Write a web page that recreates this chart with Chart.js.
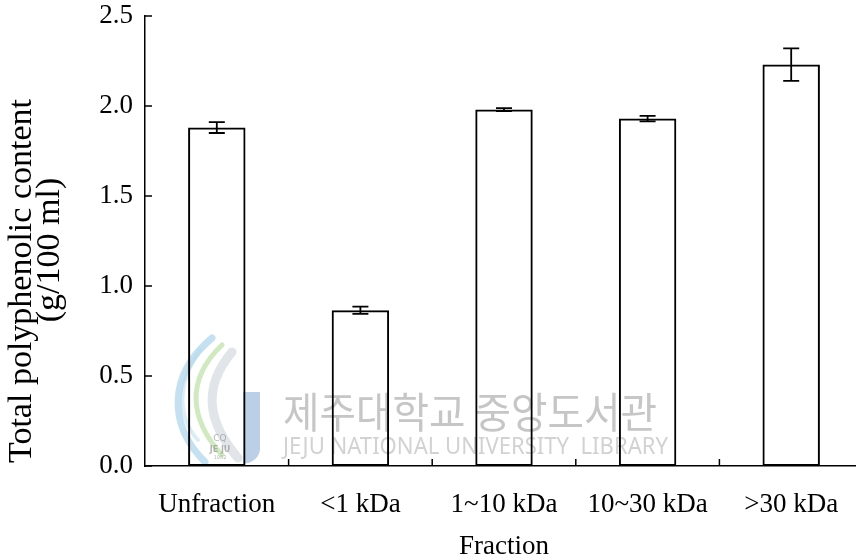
<!DOCTYPE html>
<html>
<head>
<meta charset="utf-8">
<script src="https://cdn.jsdelivr.net/npm/chart.js@4/dist/chart.umd.min.js"></script>
<style>
  html, body { margin: 0; padding: 0; background: #fff; overflow: hidden; }
  #wrap { width: 864px; height: 560px; }
</style>
</head>
<body>
<div id="wrap"><canvas id="c" width="864" height="560"></canvas></div>
<script>
// Total polyphenolic content by ultrafiltration fraction (mean ± SD)
const categories = ['Unfraction', '<1 kDa', '1~10 kDa', '10~30 kDa', '>30 kDa'];
const contentMeans = [1.88, 0.865, 1.98, 1.93, 2.23];
const contentErrors = [0.03, 0.02, 0.008, 0.015, 0.09];
const yTickValues = [0, 0.5, 1.0, 1.5, 2.0, 2.5];
const yTitleLines = ['Total polyphenolic content', '(g/100 ml)'];

const SERIF = '"Liberation Serif", "Times New Roman", serif';

// Faint library watermark behind the bars
const watermark = {
  id: 'watermark',
  beforeDatasetsDraw(chart) {
    const ctx = chart.ctx;
    ctx.save();
    // logo swooshes
    ctx.lineCap = 'round';
    const strokes = [
      { c: 'rgba(150,200,230,0.55)', w: 7, p: [212, 338, 168, 375, 168, 425, 205, 462] },
      { c: 'rgba(170,215,140,0.55)', w: 5, p: [222, 345, 185, 380, 190, 420, 222, 455] },
      { c: 'rgba(200,205,215,0.55)', w: 9, p: [232, 352, 200, 390, 210, 425, 238, 458] },
      { c: 'rgba(180,215,235,0.45)', w: 4, p: [200, 350, 176, 385, 178, 418, 198, 440] }
    ];
    strokes.forEach(s => {
      ctx.strokeStyle = s.c;
      ctx.lineWidth = s.w;
      ctx.beginPath();
      ctx.moveTo(s.p[0], s.p[1]);
      ctx.bezierCurveTo(s.p[2], s.p[3], s.p[4], s.p[5], s.p[6], s.p[7]);
      ctx.stroke();
    });
    // blue block of the logo
    ctx.fillStyle = 'rgba(170,195,225,0.8)';
    ctx.beginPath();
    ctx.moveTo(243, 392);
    ctx.lineTo(260, 392);
    ctx.lineTo(260, 450);
    ctx.quadraticCurveTo(258, 462, 243, 464);
    ctx.closePath();
    ctx.fill();
    // small logo lettering
    ctx.fillStyle = 'rgba(150,150,150,0.7)';
    ctx.textAlign = 'center';
    ctx.textBaseline = 'alphabetic';
    ctx.font = 'bold 8px "DejaVu Sans", sans-serif';
    ctx.fillText('JE JU', 220, 452);
    ctx.font = '5px "DejaVu Sans", sans-serif';
    ctx.fillText('1952', 220, 459);
    ctx.font = '9px "DejaVu Sans", sans-serif';
    ctx.fillText('CQ', 220, 441);

    // Korean library name
    ctx.textAlign = 'left';
    ctx.fillStyle = '#c6c6c6';
    ctx.font = '42px "Noto Sans CJK KR", sans-serif';
    const ko = '제주대학교 중앙도서관';
    let w = ctx.measureText(ko).width;
    ctx.save();
    ctx.translate(283, 428);
    ctx.scale(374 / w, 1);
    ctx.fillText(ko, 0, 0);
    ctx.restore();
    // English library name
    ctx.fillStyle = '#d2d2d2';
    ctx.font = '24px "Noto Sans", sans-serif';
    const en = 'JEJU NATIONAL UNIVERSITY  LIBRARY';
    w = ctx.measureText(en).width;
    ctx.save();
    ctx.translate(283, 454);
    ctx.scale(385 / w, 1);
    ctx.fillText(en, 0, 0);
    ctx.restore();
    ctx.restore();
  }
};

// Error bars, inward tick marks and the two-line y-axis title
const errorBarsAndTicks = {
  id: 'errorBarsAndTicks',
  afterDatasetsDraw(chart) {
    const ctx = chart.ctx;
    const y = chart.scales.y;
    const x = chart.scales.x;
    const meta = chart.getDatasetMeta(0);
    ctx.save();
    ctx.strokeStyle = '#000';
    ctx.lineWidth = 1.8;
    meta.data.forEach((bar, i) => {
      const top = y.getPixelForValue(contentMeans[i] + contentErrors[i]);
      const bot = y.getPixelForValue(contentMeans[i] - contentErrors[i]);
      const cx = bar.x;
      ctx.beginPath();
      ctx.moveTo(cx, top); ctx.lineTo(cx, bot);
      ctx.moveTo(cx - 8, top); ctx.lineTo(cx + 8, top);
      ctx.moveTo(cx - 8, bot); ctx.lineTo(cx + 8, bot);
      ctx.stroke();
    });
    // y ticks pointing into the plot
    const left = chart.chartArea.left;
    ctx.lineWidth = 1.5;
    yTickValues.forEach(v => {
      const py = y.getPixelForValue(v);
      ctx.beginPath();
      ctx.moveTo(left, py); ctx.lineTo(left + 7, py);
      ctx.stroke();
    });
    // x ticks between categories, pointing up
    const bottom = chart.chartArea.bottom;
    for (let i = 0; i < categories.length - 1; i++) {
      const px = (x.getPixelForValue(i) + x.getPixelForValue(i + 1)) / 2;
      ctx.beginPath();
      ctx.moveTo(px, bottom); ctx.lineTo(px, bottom - 7);
      ctx.stroke();
    }
    // rotated y-axis title
    ctx.fillStyle = '#000';
    ctx.font = '34px ' + SERIF;
    ctx.textAlign = 'center';
    ctx.textBaseline = 'middle';
    const titlePos = [[22, 281], [50, 250]];
    yTitleLines.forEach((line, i) => {
      ctx.save();
      ctx.translate(titlePos[i][0], titlePos[i][1]);
      ctx.rotate(-Math.PI / 2);
      ctx.fillText(line, 0, 0);
      ctx.restore();
    });
    ctx.restore();
  }
};

new Chart(document.getElementById('c'), {
  type: 'bar',
  data: {
    labels: categories,
    datasets: [{
      data: contentMeans,
      backgroundColor: 'rgba(255,255,255,0)',
      borderColor: '#000',
      borderWidth: 2,
      borderSkipped: false,
      categoryPercentage: 1.0,
      barPercentage: 0.4
    }]
  },
  options: {
    responsive: false,
    animation: false,
    devicePixelRatio: 1,
    layout: { padding: { top: 16, right: 1, left: 0, bottom: 0 } },
    plugins: {
      legend: { display: false },
      tooltip: { enabled: false }
    },
    scales: {
      x: {
        grid: { display: false, drawTicks: false },
        border: { display: true, color: '#000', width: 1.5 },
        ticks: {
          color: '#000',
          padding: 23,
          font: { family: SERIF, size: 27, lineHeight: 1.2 }
        },
        title: {
          display: true,
          text: 'Fraction',
          color: '#000',
          font: { family: SERIF, size: 27, lineHeight: 1.0 },
          padding: { top: 0, bottom: 0 }
        },
        afterFit(s) { s.height = 94; s.paddingLeft = 0; s.paddingRight = 0; }
      },
      y: {
        min: 0,
        max: 2.5,
        grid: { display: false, drawTicks: false },
        border: { display: true, color: '#000', width: 1.5 },
        afterBuildTicks(s) { s.ticks = yTickValues.map(v => ({ value: v })); },
        ticks: {
          color: '#000',
          padding: 12,
          font: { family: SERIF, size: 27, lineHeight: 1.2 },
          callback: v => Number(v).toFixed(1)
        },
        afterFit(s) { s.width = 145; s.paddingTop = 0; s.paddingBottom = 0; }
      }
    }
  },
  plugins: [watermark, errorBarsAndTicks]
});
</script>
</body>
</html>
